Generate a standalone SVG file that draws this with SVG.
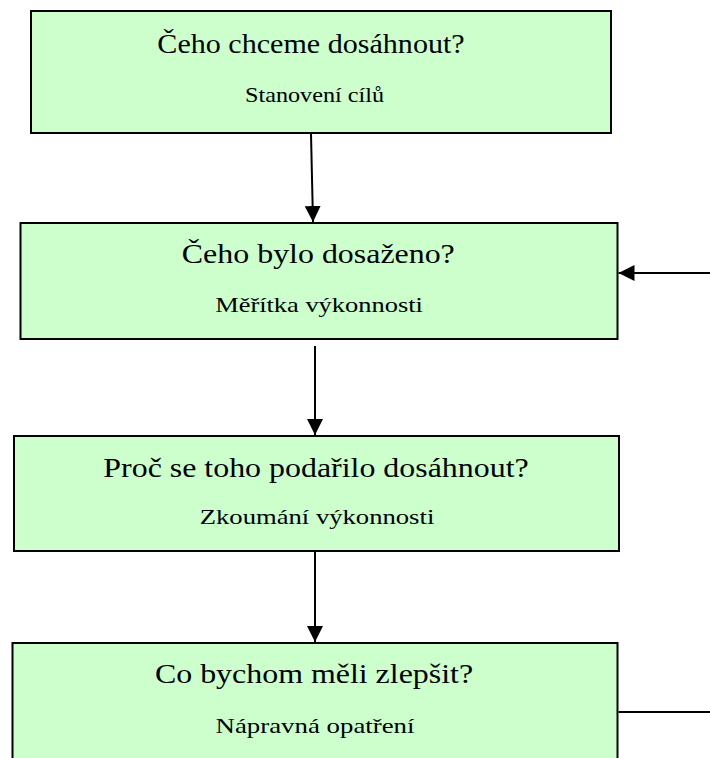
<svg xmlns="http://www.w3.org/2000/svg" width="710" height="758" viewBox="0 0 710 758">
  <style>
    .box { fill: #CCFFCC; stroke: #000; stroke-width: 2; }
    .title { font-family: "Liberation Serif", "Times New Roman", serif; font-size: 28px; fill: #000; text-anchor: middle; }
    .sub { font-family: "Liberation Serif", "Times New Roman", serif; font-size: 20.5px; fill: #000; text-anchor: middle; }
    .conn { stroke: #000; stroke-width: 2; fill: none; }
  </style>
  <defs>
    <marker id="arrow" viewBox="0 0 16 16" refX="16" refY="8" markerWidth="16" markerHeight="16" markerUnits="userSpaceOnUse" orient="auto">
      <path d="M0,0 L16,8 L0,16 Z" fill="#000"/>
    </marker>
  </defs>
  <rect width="710" height="758" fill="#fff"/>

  <!-- text is set in a slightly widened serif face -->
  <g id="node-cile">
    <rect class="box" x="31" y="11" width="580" height="122"/>
    <text class="title" transform="translate(311 53) scale(1.075 1)">Čeho chceme dosáhnout?</text>
    <text class="sub" transform="translate(314.5 101.5) scale(1.18 1)">Stanovení cílů</text>
  </g>

  <g id="node-meritka">
    <rect class="box" x="20.5" y="223" width="597" height="116"/>
    <text class="title" transform="translate(318.3 263) scale(1.14 1)">Čeho bylo dosaženo?</text>
    <text class="sub" transform="translate(319 311.5) scale(1.29 1)">Měřítka výkonnosti</text>
  </g>

  <g id="node-zkoumani">
    <rect class="box" x="14" y="436" width="605" height="115"/>
    <text class="title" transform="translate(316 476.5) scale(1.14 1)">Proč se toho podařilo dosáhnout?</text>
    <text class="sub" transform="translate(317 524) scale(1.3 1)">Zkoumání výkonnosti</text>
  </g>

  <g id="node-naprava">
    <rect class="box" x="12.5" y="643" width="605" height="125"/>
    <text class="title" transform="translate(314 683) scale(1.14 1)">Co bychom měli zlepšit?</text>
    <text class="sub" transform="translate(315 732.5) scale(1.31 1)">Nápravná opatření</text>
  </g>

  <g id="connectors">
    <line class="conn" x1="311" y1="134" x2="313" y2="222" marker-end="url(#arrow)"/>
    <line class="conn" x1="315" y1="346" x2="315" y2="435" marker-end="url(#arrow)"/>
    <line class="conn" x1="315" y1="552" x2="315" y2="642" marker-end="url(#arrow)"/>
    <line class="conn" x1="710" y1="273" x2="618.5" y2="273" marker-end="url(#arrow)"/>
    <line class="conn" x1="618.5" y1="712" x2="710" y2="712"/>
  </g>
</svg>
